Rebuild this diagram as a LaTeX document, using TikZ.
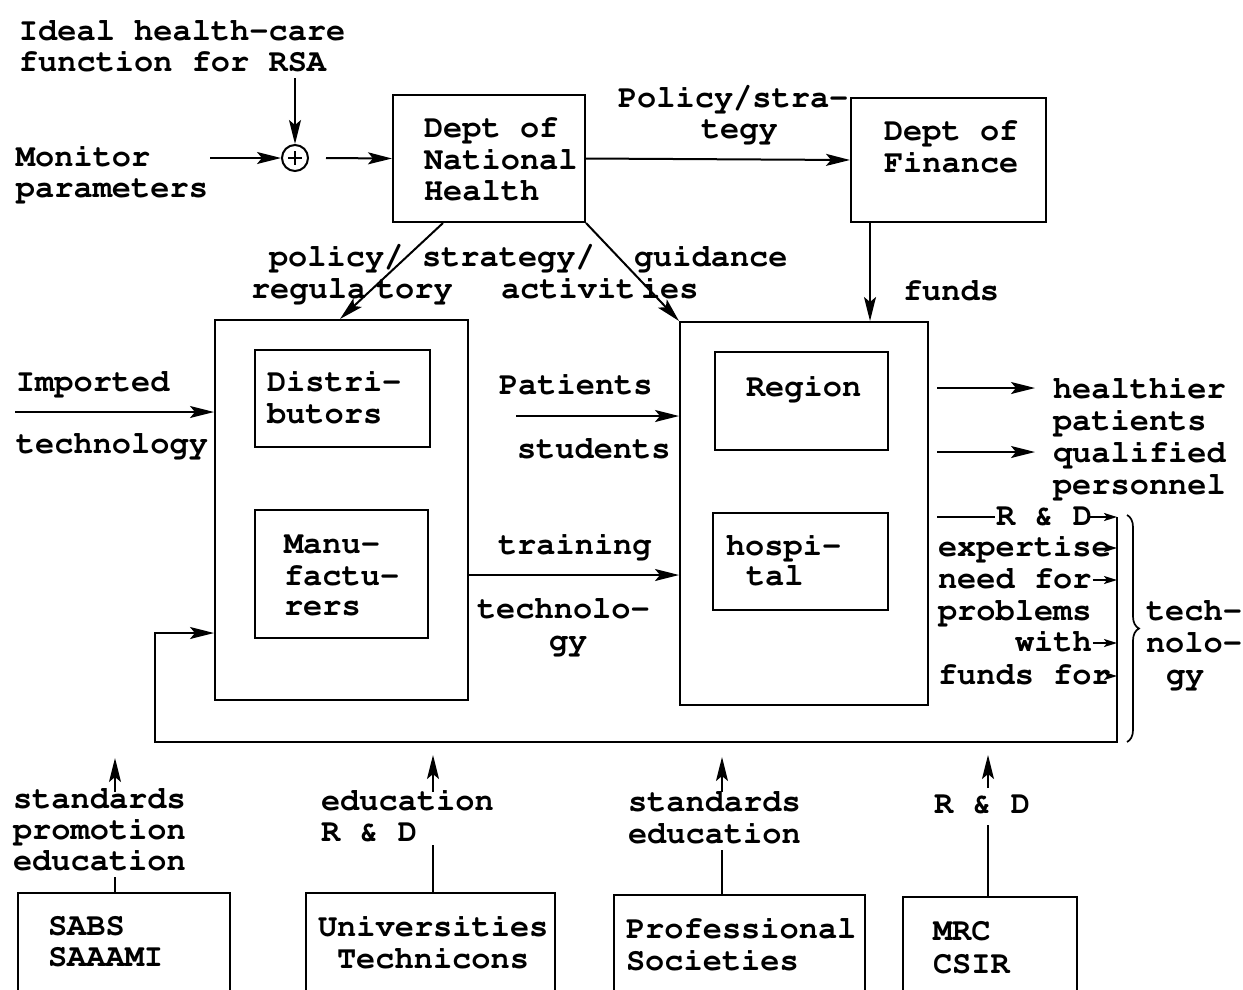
\documentclass[tikz,border=0pt]{standalone}
\usepackage[T1]{fontenc}
\usetikzlibrary{arrows.meta,decorations.pathreplacing}

\tikzset{
  lbl/.style={anchor=base west, inner sep=0pt,
    font=\fontfamily{pcr}\bfseries\fontsize{32}{32}\selectfont},
  box/.style={draw, inner sep=0pt},
  arr/.style={-{Stealth[length=24pt,width=12pt,inset=5pt]}},
  smallarr/.style={-{Stealth[length=13pt,width=8pt,inset=3pt]}}
}

\begin{document}
\begin{tikzpicture}[x=1pt, y=-1pt, line width=2pt]
\useasboundingbox (0,0) rectangle (1243,989);
\clip (0,0) rectangle (1243,989);
\fill[white] (0,0) rectangle (1243,989);

% ---------- boxes ----------
\node[box, minimum width=192pt, minimum height=127pt] (dnh)    at (489,158.5) {};
\node[box, minimum width=195pt, minimum height=124pt] (fin)    at (948.5,160) {};
\node[box, minimum width=253pt, minimum height=380pt] (lout)   at (341.5,510) {};
\node[box, minimum width=175pt, minimum height=97pt]  (dist)   at (342.5,398.5) {};
\node[box, minimum width=173pt, minimum height=128pt] (manu)   at (341.5,574) {};
\node[box, minimum width=248pt, minimum height=383pt] (rout)   at (804,513.5) {};
\node[box, minimum width=173pt, minimum height=98pt]  (region) at (801.5,401) {};
\node[box, minimum width=175pt, minimum height=97pt]  (hosp)   at (800.5,561.5) {};
\node[box, minimum width=212pt, minimum height=140pt] (sabs)   at (124,963) {};
\node[box, minimum width=249pt, minimum height=140pt] (univ)   at (430.5,963) {};
\node[box, minimum width=251pt, minimum height=140pt] (prof)   at (739.5,965) {};
\node[box, minimum width=174pt, minimum height=140pt] (mrc)    at (990,967) {};
\node[draw, circle, minimum size=26pt, inner sep=0pt] (sum) at (295,158) {};
\draw[line width=1.7pt] (288,158) -- (302,158) (295,151) -- (295,165);

% ---------- texts ----------
\node[lbl] (ideal1) at (18,40) {Ideal health-care};
\node[lbl] (ideal2) at (18,71) {function for RSA};
\node[lbl] (mon1) at (15,166) {Monitor};
\node[lbl] (mon2) at (15,197) {parameters};
\node[lbl] (dnh1) at (423,137) {Dept of};
\node[lbl] (dnh2) at (423,169) {National};
\node[lbl] (dnh3) at (423,200) {Health};
\node[lbl] (pol1) at (617,107) {Policy/stra-};
\node[lbl] (pol2) at (700,138) {tegy};
\node[lbl] (fin1) at (883,140) {Dept of};
\node[lbl] (fin2) at (883,172) {Finance};
\node[lbl] (ps1) at (268,266) {policy/};
\node[lbl] (ps2) at (421,266) {strategy/};
\node[lbl] (ps3) at (633,266) {guidance};
\node[lbl] (rt1) at (250,298) {regula};
\node[lbl] (rt2) at (375,298) {tory};
\node[lbl] (rt3) at (500,298) {activit};
\node[lbl] (rt4) at (640,298) {ies};
\node[lbl] (funds) at (902,300) {funds};
\node[lbl] (imp1) at (15,391) {Imported};
\node[lbl] (imp2) at (15,453) {technology};
\node[lbl] (dist1) at (266,391) {Distri-};
\node[lbl] (dist2) at (266,423) {butors};
\node[lbl] (manu1) at (283,553) {Manu-};
\node[lbl] (manu2) at (283,585) {factu-};
\node[lbl] (manu3) at (283,615) {rers};
\node[lbl] (pat) at (498,394) {Patients};
\node[lbl] (stu) at (516,458) {students};
\node[lbl] (trn) at (497,554) {training};
\node[lbl] (tec1) at (476,618) {technolo-};
\node[lbl] (tec2) at (548,650) {gy};
\node[lbl] (reg1) at (745,396) {Region};
\node[lbl] (hos1) at (725,555) {hospi-};
\node[lbl] (hos2) at (745,585) {tal};
\node[lbl] (out1) at (1052,398) {healthier};
\node[lbl] (out2) at (1052,430) {patients};
\node[lbl] (out3) at (1052,462) {qualified};
\node[lbl] (out4) at (1052,494) {personnel};
\node[lbl] (fb1) at (995,525) {R \& D};
\node[lbl] (fb2) at (937,556) {expertise};
\node[lbl] (fb3) at (937,588) {need for};
\node[lbl] (fb4) at (937,620) {problems};
\node[lbl] (fb5) at (1014,651) {with};
\node[lbl] (fb6) at (937,684) {funds for};
\node[lbl] (th1) at (1145,620) {tech-};
\node[lbl] (th2) at (1145,652) {nolo-};
\node[lbl] (th3) at (1165,684) {gy};
\node[lbl] (sl1) at (12,808) {standards};
\node[lbl] (sl2) at (12,839) {promotion};
\node[lbl] (sl3) at (12,870) {education};
\node[lbl] (ul1) at (320,810) {education};
\node[lbl] (ul2) at (320,841) {R \& D};
\node[lbl] (pl1) at (627,811) {standards};
\node[lbl] (pl2) at (627,843) {education};
\node[lbl] (ml1) at (933,813) {R \& D};
\node[lbl] (sb1) at (47,935) {SABS};
\node[lbl] (sb2) at (47,966) {SAAAMI};
\node[lbl] (un1) at (317,936) {Universities};
\node[lbl] (un2) at (336,968) {Technicons};
\node[lbl] (pr1) at (625,938) {Professional};
\node[lbl] (pr2) at (625,970) {Societies};
\node[lbl] (mr1) at (932,940) {MRC};
\node[lbl] (mr2) at (932,973) {CSIR};

% ---------- free ends ----------
\coordinate (idealend) at (295,78);
\coordinate (monend) at (210,158);
\coordinate (sumout) at (326,158);
\coordinate (impend) at (15,412);
\coordinate (patend) at (516,416);
\coordinate (hl0) at (937,388);
\coordinate (hl1) at (1035,388);
\coordinate (ql0) at (937,452);
\coordinate (ql1) at (1035,452);
\coordinate (rd0) at (937,517);
\coordinate (rd1) at (1090,517);
\coordinate (fbtop) at (1117,517);
\coordinate (fbcorner) at (1117,742);
\coordinate (fbleft) at (155,742);
\coordinate (fbup) at (155,633);

% ---------- connectors ----------
\draw[arr] (idealend) -- (sum.north);
\draw[arr] (monend) -- (sum.west);
\draw[arr] (sumout) -- (dnh.west);
\draw[arr] (dnh.east) -- (fin.west);
\draw[arr] (fin.south -| 870,0) -- (rout.north -| 870,0);
\draw[arr] (dnh.south -| 443,0) -- (lout.north -| 340,0);
\draw[arr] (dnh.south east) -- (rout.north west);
\draw[arr] (impend) -- (lout.west |- impend);
\draw[arr] (patend) -- (rout.west |- patend);
\draw[arr] (lout.east |- 0,575) -- (rout.west |- 0,575);
\draw[arr] (hl0) -- (hl1);
\draw[arr] (ql0) -- (ql1);

% feedback of technology back to the industry
\draw (rd0) -- (fb1.west |- rd0);
\draw[smallarr] (rd1) -- (fbtop);
\draw[arr] (fbtop) -- (fbcorner) -- (fbleft) -- (fbup) -- (lout.west |- fbup);
\draw[smallarr] (fb2.east |- 0,548) -- (1117,548);
\draw[smallarr] (fb3.east |- 0,580) -- (1117,580);
\draw[smallarr] (fb5.east |- 0,643) -- (1117,643);
\draw[smallarr] (fb6.east |- 0,676) -- (1117,676);
\draw[line width=1.7pt, decorate, decoration={brace, amplitude=12pt}]
  (1127,515) -- (1127,742);

% support from the institutions below
\draw (sabs.north -| 115,0) -- (115,877);
\draw[arr] (115,792) -- (115,758);
\draw (univ.north -| 433,0) -- (433,845);
\draw[arr] (433,792) -- (433,755);
\draw (prof.north -| 722,0) -- (722,850);
\draw[arr] (722,792) -- (722,757);
\draw (mrc.north -| 988,0) -- (988,825);
\draw[arr] (988,788) -- (988,755);
\end{tikzpicture}
\end{document}
